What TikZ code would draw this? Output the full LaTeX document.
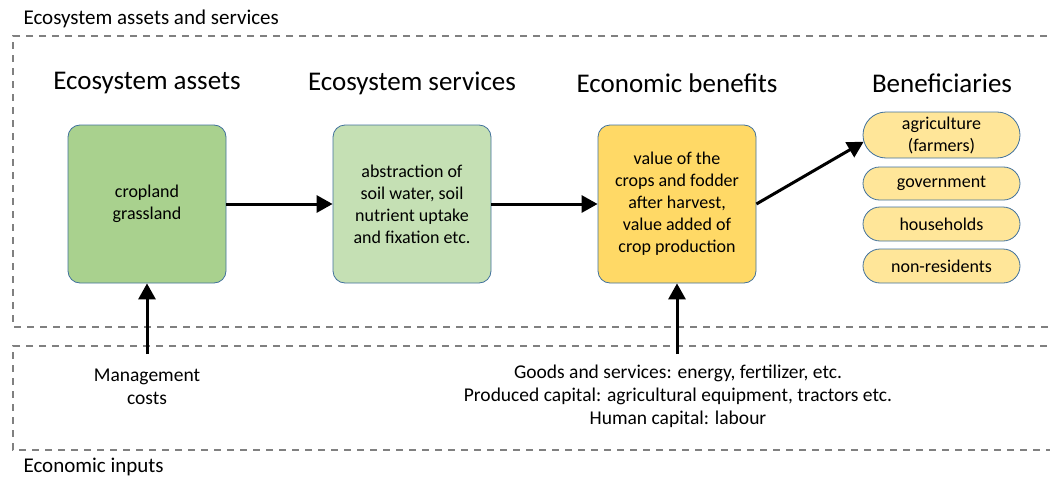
\documentclass[tikz,border=0pt]{standalone}
\usepackage{fontspec}
\setmainfont{Carlito}
\usetikzlibrary{arrows.meta,shapes.misc}

\definecolor{assetfill}{RGB}{169,209,142}
\definecolor{servfill}{RGB}{197,224,180}
\definecolor{benfill}{RGB}{255,217,102}
\definecolor{pillfill}{RGB}{255,230,153}
\definecolor{edge}{RGB}{65,113,156}
\definecolor{frame}{RGB}{128,128,128}

\tikzset{
    box/.style={draw=edge, line width=0.8pt, rounded corners=12pt,
        minimum width=158pt, minimum height=158pt, align=center,
        font=\fontsize{18}{22}\selectfont},
    pill/.style={draw=edge, line width=0.8pt, rounded rectangle, fill=pillfill,
        minimum width=157pt, align=center, inner sep=0pt,
        font=\fontsize{18}{22}\selectfont},
    head/.style={font=\fontsize{27}{31}\selectfont},
    note/.style={align=center, font=\fontsize{19.5}{23}\selectfont},
    flow/.style={line width=3pt, -{Triangle[length=16pt,width=17pt]}},
    zone/.style={draw=frame, line width=1.4pt, dash pattern=on 7pt off 6pt}
}

\begin{document}
\begin{tikzpicture}[x=1pt, y=-1pt]
\useasboundingbox (0,0) rectangle (1050,479);
    \draw[zone] (1060,36) -- (13,36) -- (13,327) -- (1060,327);
    \draw[zone] (1060,346) -- (13,346) -- (13,450) -- (1060,450);
    \node[anchor=west, font=\fontsize{21}{25}\selectfont] (top) at (20,19) {Ecosystem assets and services};
    \node[anchor=west, font=\fontsize{21}{25}\selectfont] (bot) at (20,467) {Economic inputs};

    \node[head] (h1) at (147,83) {Ecosystem assets};
    \node[head] (h2) at (412,83) {Ecosystem services};
    \node[head] (h3) at (677,83) {Economic benefits};
    \node[head] (h4) at (942,83) {Beneficiaries};

    \node[box, fill=assetfill] (asset) at (147,204) {cropland\\grassland};
    \node[box, fill=servfill] (serv) at (412,204) {abstraction of\\soil water, soil\\nutrient uptake\\and fixation etc.};
    \node[box, fill=benfill] (benef) at (677,204) {value of the\\crops and fodder\\after harvest,\\value added of\\crop production};

    \node[pill, minimum height=46pt] (agri) at (941.5,135) {agriculture\\(farmers)};
    \node[pill, minimum height=33pt] (gov) at (941.5,183.5) {government};
    \node[pill, minimum height=34pt] (hh) at (941.5,224) {households};
    \node[pill, minimum height=34pt] (nonres) at (941.5,266) {non-residents};

    \coordinate (mc) at (147,354);
    \coordinate (ei) at (677,354);
    \node[note] (mctext) at (147,387) {Management\\costs};
    \node[note] (eitext) at (678,396) {Goods and services: energy, fertilizer, etc.\\Produced capital: agricultural equipment, tractors etc.\\Human capital: labour};

    \draw[flow] (asset) -- (serv);
    \draw[flow] (serv) -- (benef);
    \draw[flow] (benef.east) -- (agri.185);
    \draw[flow] (mc) -- (asset);
    \draw[flow] (ei) -- (benef);
\end{tikzpicture}
\end{document}
